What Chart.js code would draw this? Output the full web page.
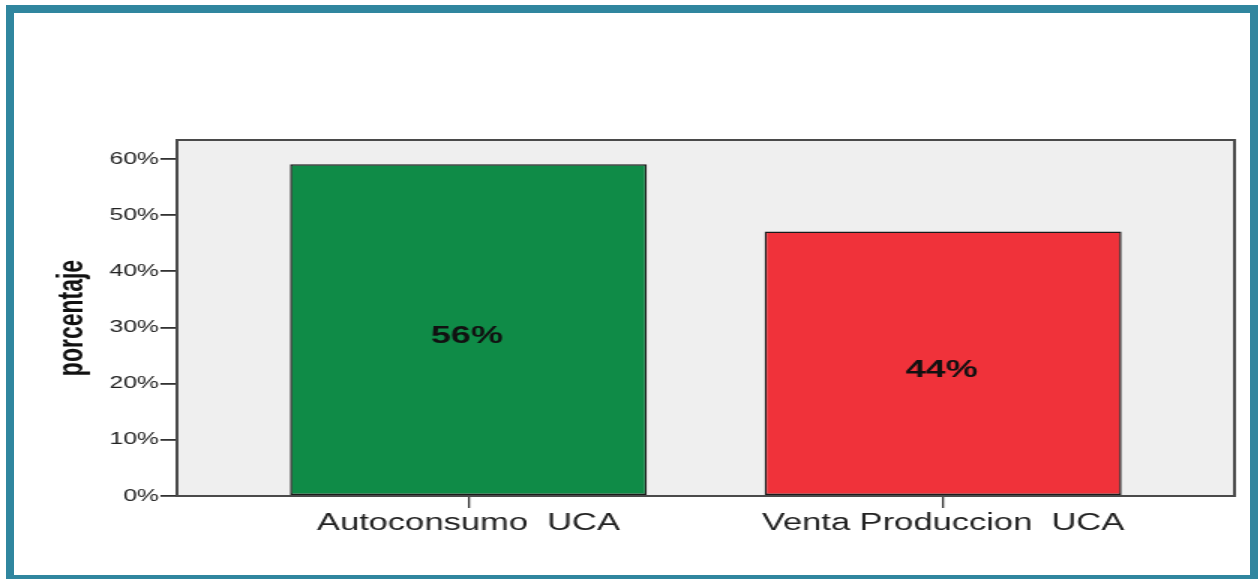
<!DOCTYPE html>
<html>
<head>
<meta charset="utf-8">
<script src="https://cdn.jsdelivr.net/npm/chart.js@4/dist/chart.umd.min.js"></script>
<style>
  body { margin: 0; background: #fff; width: 1259px; height: 579px; overflow: hidden; position: relative; }
  #marco { position: absolute; left: 6px; top: 5px; width: 1236px; height: 562px; border: 8px solid #30869f; }
  #grafico { position: absolute; left: 0; top: 0; }
</style>
</head>
<body>
<div id="marco"></div>
<!-- el original esta estirado a lo ancho, se estira el canvas igual -->
<canvas id="grafico" width="840" height="579" style="width:1260px;height:579px"></canvas>
<script>
var CATEGORIAS = ['Autoconsumo  UCA', 'Venta Produccion  UCA'];
var PORCENTAJES = [59.1, 47.1];
var ETIQUETAS = ['56%', '44%'];
var COLORES = ['#0f8b47', '#f0323a'];
var MARGEN = 0.614;

var fondoPlot = {
  id: 'fondoPlot',
  beforeDatasetsDraw: function(chart) {
    var a = chart.chartArea, c = chart.ctx;
    c.save();
    c.fillStyle = '#efefef';
    c.fillRect(a.left, a.top, a.right - a.left, a.bottom - a.top);
    c.restore();
  },
  afterDatasetsDraw: function(chart) {
    var a = chart.chartArea, c = chart.ctx;
    c.save();
    c.strokeStyle = '#4a4a4a';
    c.lineWidth = 2;
    c.strokeRect(a.left, a.top, a.right - a.left, a.bottom - a.top);
    // etiquetas dentro de las barras
    c.font = 'bold 24px "Liberation Sans", Arial, sans-serif';
    c.fillStyle = '#111';
    c.textAlign = 'center';
    c.textBaseline = 'middle';
    chart.getDatasetMeta(0).data.forEach(function(bar, i) {
      c.fillText(ETIQUETAS[i], bar.x - 1, (bar.y + bar.base) / 2 + 7);
    });
    c.restore();
  }
};

var ctx = document.getElementById('grafico');
var chart = new Chart(ctx, {
  type: 'bar',
  data: {
    labels: CATEGORIAS,
    datasets: [{
      data: PORCENTAJES,
      backgroundColor: COLORES,
      borderColor: '#1a1a1a',
      borderWidth: 1.5,
      borderSkipped: false,
      barPercentage: 0.752,
      categoryPercentage: 1
    }]
  },
  options: {
    responsive: false,
    devicePixelRatio: 1,
    animation: false,
    layout: { padding: { left: 37, right: 17, top: 140, bottom: 20 } },
    plugins: { legend: { display: false }, tooltip: { enabled: false } },
    scales: {
      x: {
        offset: false,
        afterBuildTicks: function(scale) {
          scale._startValue = -MARGEN;
          scale._valueRange = 1 + 2 * MARGEN;
        },
        afterFit: function(scale) { scale.height = 63; },
        border: { display: false },
        grid: { offset: false, drawOnChartArea: false, drawTicks: true, tickLength: 12, color: '#333', lineWidth: 1.3 },
        ticks: {
          maxRotation: 0,
          autoSkip: false,
          padding: 2,
          color: '#222',
          font: { family: '"Liberation Sans", Arial, sans-serif', size: 23 }
        }
      },
      y: {
        min: 0,
        max: 63.4,
        afterFit: function(scale) { scale.width = 81; },
        border: { display: false },
        grid: { drawOnChartArea: false, drawTicks: true, tickLength: 11, color: '#333', lineWidth: 1.8 },
        ticks: {
          stepSize: 10,
          includeBounds: false,
          padding: 1,
          color: '#222',
          font: { family: '"Liberation Sans", Arial, sans-serif', size: 16.5 },
          callback: function(v) { return v + '%'; }
        },
        title: {
          display: true,
          text: 'porcentaje',
          color: '#111',
          padding: { top: 0, bottom: 0 },
          font: { family: '"Liberation Sans", Arial, sans-serif', size: 23, weight: 'bold', lineHeight: 1 }
        }
      }
    }
  },
  plugins: [fondoPlot]
});
</script>
</body>
</html>
